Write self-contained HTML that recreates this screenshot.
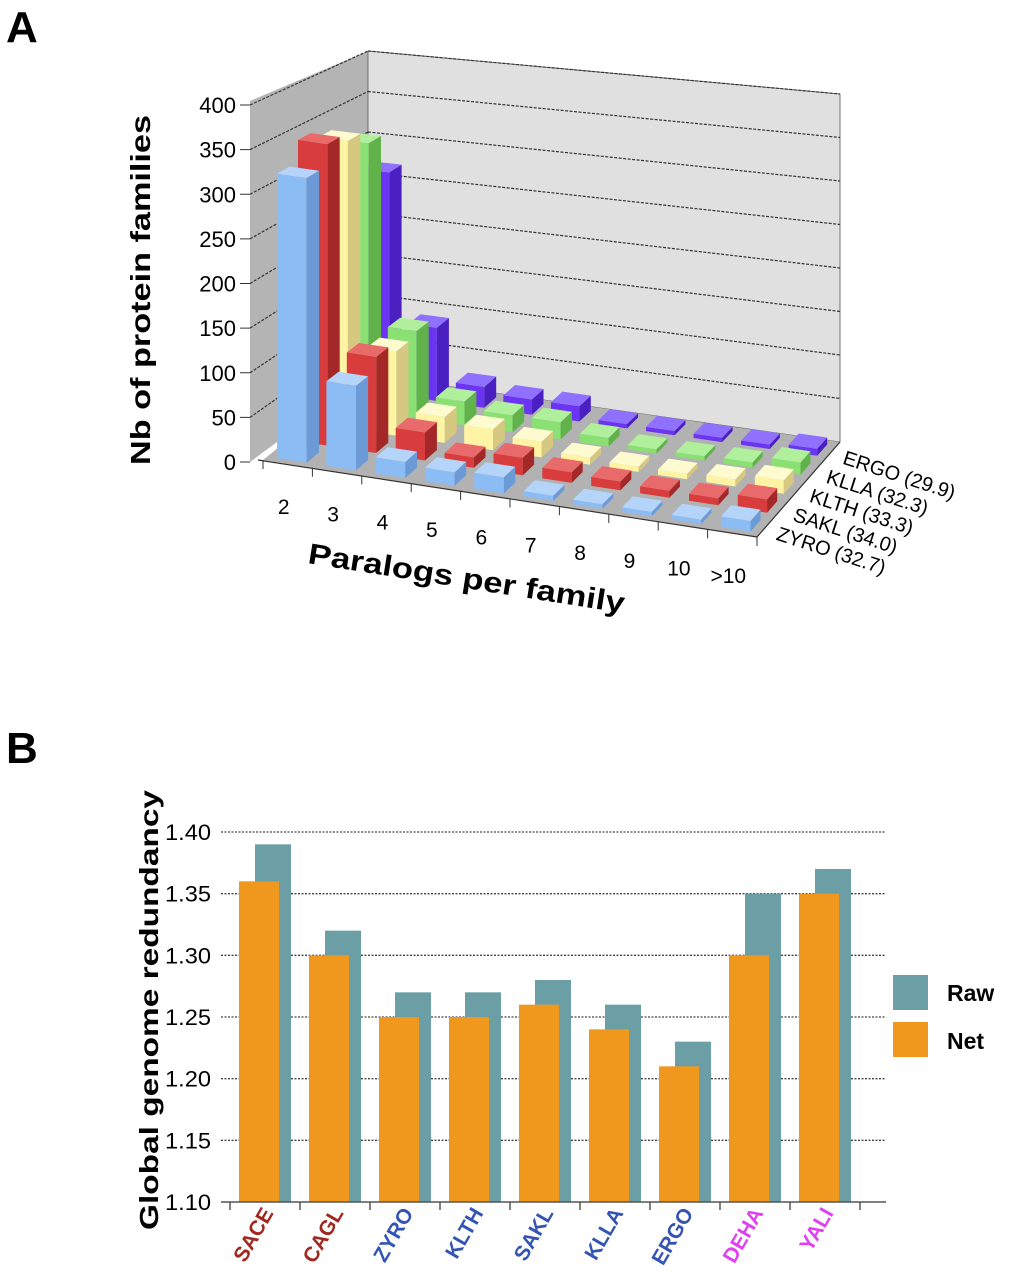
<!DOCTYPE html>
<html><head><meta charset="utf-8"><style>
body{margin:0;background:#fff;width:1011px;height:1280px;overflow:hidden;font-family:"Liberation Sans",sans-serif}
svg{position:absolute;left:0;top:0}
</style></head><body>
<svg id="s" width="1011" height="1280">
<text x="6" y="42" font-size="44" font-weight="bold">A</text>
<text x="6" y="763" font-size="44" font-weight="bold">B</text>
<g id="ga"></g>
<g id="gb"></g>
</svg>
<script>
// ---------- Chart A data ----------
const catsA = ["2","3","4","5","6","7","8","9","10",">10"];
const seriesA = ["ZYRO (32.7)","SAKL (34.0)","KLTH (33.3)","KLLA (32.3)","ERGO (29.9)"];
const zyro = [320, 95, 18, 15, 18, 6, 5, 5, 5, 12];
const sakl = [345, 110, 32, 12, 20, 12, 10, 8, 8, 15];
const klth = [335, 98, 30, 24, 18, 8, 6, 6, 8, 15];
const klla = [318, 103, 28, 20, 20, 10, 5, 5, 6, 14];
const ergo = [268, 88, 25, 18, 18, 5, 5, 5, 5, 8];
const yTicksA = [0,50,100,150,200,250,300,350,400];
// ---------- Chart B data ----------
const catsB = ["SACE","CAGL","ZYRO","KLTH","SAKL","KLLA","ERGO","DEHA","YALI"];
const rawB = [1.39,1.32,1.27,1.27,1.28,1.26,1.23,1.35,1.37];
const netB = [1.36,1.30,1.25,1.25,1.26,1.24,1.21,1.30,1.35];
const yTicksB = [1.10,1.15,1.20,1.25,1.30,1.35,1.40];

const NS="http://www.w3.org/2000/svg";
function mk(tag,attrs,parent){const e=document.createElementNS(NS,tag);for(const k in attrs)e.setAttribute(k,attrs[k]);parent.appendChild(e);return e;}
const ga=document.getElementById('ga'), gb=document.getElementById('gb');

// projection for A
const F0=[263,460],F1=[757,537],B0=[368,375],B1=[840,442];
function P(c,d,v){
  const t=c/10,u=d/5;
  const fx=F0[0]+(F1[0]-F0[0])*t, fy=F0[1]+(F1[1]-F0[1])*t;
  const bx=B0[0]+(B1[0]-B0[0])*t, by=B0[1]+(B1[1]-B0[1])*t;
  const x=fx+(bx-fx)*u, y=fy+(by-fy)*u;
  const sb=0.81+(0.87-0.81)*t;
  const s=0.8925+(sb-0.8925)*u;
  return [x,y-v*s];
}
function pts(a){return a.map(p=>p[0].toFixed(1)+","+p[1].toFixed(1)).join(" ");}

// walls
const lw=mk('polygon',{points:pts([[250,462],P(0,5,0),P(0,5,400),[250,101]]),fill:'#b4b4b4'},ga);

const bw=mk('polygon',{points:pts([P(0,5,0),P(10,5,0),P(10,5,400),P(0,5,400)]),fill:'#e0e0e0',stroke:'#555','stroke-width':0.8},ga);

const fl=mk('polygon',{points:pts([P(0,0,0),P(10,0,0),P(10,5,0),P(0,5,0)]),fill:'#b2b2b2'},ga);

// gridlines
yTicksA.forEach(v=>{
  const a=P(0,5,v),b=P(10,5,v),l=[250,462-v*0.8925];
  if(v>0){
  const g1=mk('line',{x1:l[0],y1:l[1],x2:a[0],y2:a[1],stroke:'#333','stroke-width':1.2,'stroke-dasharray':'3,1.5'},ga);
  
  const g2=mk('line',{x1:a[0],y1:a[1],x2:b[0],y2:b[1],stroke:'#333','stroke-width':1.2,'stroke-dasharray':'3,1.5'},ga);
  }
  const tk=mk('line',{x1:240,y1:l[1],x2:250,y2:l[1],stroke:'#333','stroke-width':1},ga);
  
  const t=mk('text',{x:236,y:l[1]+8,'font-size':22,'text-anchor':'end'},ga);t.textContent=v;
  
});
// axis lines
{const a=P(0,0,0),b=P(10,0,0);
const ax=mk('line',{x1:a[0]-5,y1:a[1],x2:b[0],y2:b[1],stroke:'#333','stroke-width':1.2},ga);

for(let i=0;i<=10;i++){const p=P(i,0,0);const tk=mk('line',{x1:p[0],y1:p[1],x2:p[0],y2:p[1]+9,stroke:'#333'},ga);
}
const c=P(10,5,0);const dx=mk('line',{x1:b[0],y1:b[1],x2:c[0],y2:c[1],stroke:'#333','stroke-width':1.2},ga);
}

const colors=[["#8cbcf4","#6c9ad6","#b4d4fa"],["#d83c3c","#a42828","#e86a6a"],["#fff4a4","#d6c880","#fffbd0"],["#8ae072","#62b24c","#b0f09c"],["#6a34f2","#4a20c0","#9070ff"]];
const seriesVals=[zyro,sakl,klth,klla,ergo];
for(let j=4;j>=0;j--){
  for(let i=0;i<10;i++){
    const v=seriesVals[j][i];
    const c0=i+0.2,c1=i+0.8,d0=j+0.2,d1=j+0.8;
    const g=mk('g',{},ga);
    
    
    mk('polygon',{points:pts([P(c0,d0,0),P(c1,d0,0),P(c1,d0,v),P(c0,d0,v)]),fill:colors[j][0]},g);
    mk('polygon',{points:pts([P(c1,d0,0),P(c1,d1,0),P(c1,d1,v),P(c1,d0,v)]),fill:colors[j][1]},g);
    mk('polygon',{points:pts([P(c0,d0,v),P(c1,d0,v),P(c1,d1,v),P(c0,d1,v)]),fill:colors[j][2]},g);
  }
}
// category labels
catsA.forEach((c,i)=>{const p=P(i+0.5,0,0);
  const t=mk('text',{x:p[0]-4,y:p[1]+50,'font-size':21,'text-anchor':'middle'},ga);t.textContent=c;
  });
// series labels
seriesA.forEach((s,j)=>{const p=P(10,j+0.5,0);
  const t=mk('text',{x:p[0]+10,y:p[1]+12,'font-size':20,transform:`rotate(18 ${p[0]+10} ${p[1]+12})`},ga);t.textContent=s;
  });
{const t=mk('text',{x:150,y:290,'font-size':28,'font-weight':'bold','text-anchor':'middle',textLength:350,lengthAdjust:'spacingAndGlyphs',transform:'rotate(-90 150 290)'},ga);
t.textContent="Nb of protein families";
const x=mk('text',{x:465,y:588,'font-size':29,'font-weight':'bold','text-anchor':'middle',textLength:320,lengthAdjust:'spacingAndGlyphs',transform:'rotate(9 465 588)'},ga);
x.textContent="Paralogs per family";}

// ---------- Chart B ----------
const yB=v=>1202-(v-1.10)/0.30*370;
const xB=i=>230+70*i;
yTicksB.forEach(v=>{
  const y=yB(v);
  if(v>1.10){const l=mk('line',{x1:221,y1:y,x2:885,y2:y,stroke:'#444','stroke-width':1.3,'stroke-dasharray':'2,1.5'},gb);
  }
  const t=mk('text',{x:211,y:y+8,'font-size':22,'text-anchor':'end',textLength:46,lengthAdjust:'spacingAndGlyphs'},gb);t.textContent=v.toFixed(2);
  
});
const labCol=["#a0281e","#a0281e","#3454b4","#3454b4","#3454b4","#3454b4","#3454b4","#e040f0","#e040f0"];
catsB.forEach((c,i)=>{
  const r=mk('rect',{x:xB(i)+25,y:yB(rawB[i]),width:36,height:1202-yB(rawB[i]),fill:'#6b9fa5'},gb);
  
  const n=mk('rect',{x:xB(i)+9,y:yB(netB[i]),width:40,height:1202-yB(netB[i]),fill:'#f0981e'},gb);
  
  const cx=xB(i)+44,cy=1213;
  const t=mk('text',{x:cx,y:cy,'font-size':21,'font-weight':'bold','text-anchor':'end',fill:labCol[i],transform:`rotate(-60 ${cx} ${cy})`},gb);
  t.textContent=c;
});
{const ax=mk('line',{x1:221,y1:1202,x2:886,y2:1202,stroke:'#555','stroke-width':1.5},gb);

for(let i=0;i<=9;i++){const tk=mk('line',{x1:xB(i),y1:1202,x2:xB(i),y2:1210,stroke:'#555','stroke-width':1.5},gb);
}
const t=mk('text',{x:158,y:1010,'font-size':26,'font-weight':'bold','text-anchor':'middle',textLength:440,lengthAdjust:'spacingAndGlyphs',transform:'rotate(-90 158 1010)'},gb);
t.textContent="Global genome redundancy";
const l1=mk('rect',{x:893,y:975,width:35,height:35,fill:'#6b9fa5'},gb);
const t1=mk('text',{x:947,y:1001,'font-size':23,'font-weight':'bold'},gb);t1.textContent="Raw";
const l2=mk('rect',{x:893,y:1022,width:35,height:35,fill:'#f0981e'},gb);
const t2=mk('text',{x:947,y:1049,'font-size':23,'font-weight':'bold'},gb);t2.textContent="Net";}
</script>
</body></html>
